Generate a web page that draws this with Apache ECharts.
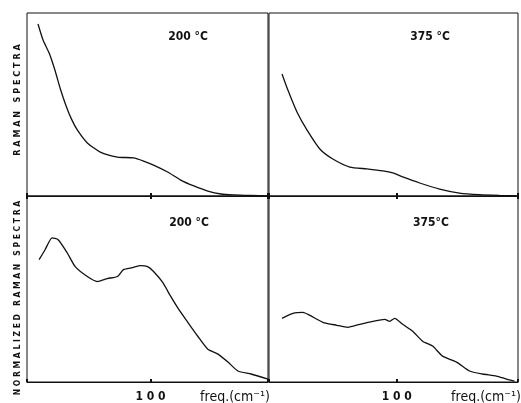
<!DOCTYPE html>
<html>
<head>
<meta charset="utf-8">
<script src="https://cdn.jsdelivr.net/npm/echarts@6/dist/echarts.min.js"></script>
<style>
  html, body { margin: 0; padding: 0; background: #fff; }
  #chart { width: 521px; height: 403px; }
</style>
</head>
<body>
<div id="chart"></div>
<script>
// frequency (cm-1) and intensity (arb. units)
const topLeftFreq = [8.9, 13.0, 18.0, 22.5, 27.0, 31.5, 36.0, 40.7, 48.8, 59.3, 73.2, 86.2, 94.3, 102.4, 113.8, 124.4, 135.0, 146.3, 156.9, 167.5, 181.3, 195];
const topLeftVal  = [94.0, 85.2, 78.0, 69.0, 58.5, 49.5, 42.0, 36.1, 29.0, 24.0, 21.3, 20.8, 19.1, 16.9, 13.1, 8.7, 5.5, 2.7, 1.1, 0.6, 0.3, 0.1];

const topRightFreq = [10.2, 14.8, 21.9, 29.7, 39.8, 50.0, 63.3, 76.6, 89.1, 96.9, 104.7, 118.0, 133.6, 149.2, 164.8, 180.5, 193.8];
const topRightVal  = [66.7, 57.9, 45.9, 36.1, 25.7, 20.2, 15.8, 14.8, 13.7, 12.6, 10.4, 7.1, 3.8, 1.6, 0.7, 0.3, 0.1];

const botLeftFreq = [9.8, 14.6, 20.3, 25.2, 32.5, 39.0, 48.8, 56.9, 65.0, 73.2, 78.0, 85.4, 91.9, 97.6, 102.4, 109.8, 116.3, 122.8, 130.1, 138.2, 146.3, 154.5, 162.6, 170.7, 181.3, 195.1];
const botLeftVal  = [65.8, 71.1, 77.5, 76.5, 69.5, 62.0, 56.7, 54.0, 55.6, 56.7, 60.4, 61.5, 62.6, 62.0, 59.4, 53.5, 46.0, 39.0, 32.1, 24.6, 17.6, 15.0, 10.7, 5.9, 4.3, 1.6];

const botRightFreq = [10.2, 18.8, 26.6, 32.0, 42.2, 53.1, 61.7, 71.1, 81.3, 90.6, 94.5, 98.4, 104.7, 112.5, 120.3, 128.1, 135.9, 146.9, 157.0, 167.2, 178.1, 185.9, 192.2];
const botRightVal  = [34.2, 36.9, 37.4, 35.8, 32.1, 30.5, 29.4, 31.0, 32.6, 33.7, 32.6, 34.2, 31.0, 27.3, 21.9, 19.3, 13.9, 10.7, 5.9, 4.3, 3.2, 1.6, 0.5];

const panelTitles = ['200 °C', '375 °C', '200 °C', '375°C'];
const tickLabel = '1 0 0';
const freqName = 'freq.(cm\u207B\u00B9)';

const pair = (xs, ys) => xs.map((x, i) => [x, ys[i]]);
const panels = [
  pair(topLeftFreq, topLeftVal),
  pair(topRightFreq, topRightVal),
  pair(botLeftFreq, botLeftVal),
  pair(botRightFreq, botRightVal),
];

const ink = '#111';
const font = '"Liberation Sans Narrow", "DejaVu Sans Condensed", sans-serif';

const grids = [
  { left: 27, top: 13, width: 241, height: 183 },
  { left: 269, top: 13, width: 249, height: 183 },
  { left: 27, top: 196, width: 241, height: 187 },
  { left: 269, top: 196, width: 249, height: 187 },
].map(g => Object.assign(g, { show: true, borderColor: ink, borderWidth: 1, backgroundColor: 'transparent' }));

const xAxes = grids.map((g, i) => ({
  type: 'value', gridIndex: i, min: 0, max: 195, interval: 100,
  axisLine: { show: true, lineStyle: { color: ink, width: 1 } },
  axisTick: { show: true, inside: true, length: 3, lineStyle: { color: ink, width: 2 } },
  splitLine: { show: false },
  axisLabel: {
    show: i >= 2, margin: 9, color: ink, fontSize: 12, fontWeight: 'bold', fontFamily: font,
    formatter: v => (v === 100 ? tickLabel : ''),
  },
}));
// short ticks just below the middle line so the mark at 100 crosses it
[2, 3].forEach(i => xAxes.push({
  type: 'value', gridIndex: i, position: 'top', min: 0, max: 195, interval: 100,
  axisLine: { show: false },
  axisTick: { show: true, inside: true, length: 3, lineStyle: { color: ink, width: 2 } },
  axisLabel: { show: false }, splitLine: { show: false },
}));

const yAxes = grids.map((g, i) => ({
  type: 'value', gridIndex: i, min: 0, max: 100,
  axisLine: { show: false }, axisTick: { show: false },
  axisLabel: { show: false }, splitLine: { show: false },
}));

const series = panels.map((d, i) => ({
  type: 'line', xAxisIndex: i, yAxisIndex: i, data: d,
  showSymbol: false, smooth: 0.2,
  lineStyle: { color: ink, width: 1.3 },
}));

const titlePos = [[188, 37], [430, 37], [189, 223], [431, 223]];
const graphic = titlePos.map((p, i) => ({
  type: 'text', x: p[0], y: p[1],
  style: { text: panelTitles[i], fill: ink, font: 'bold 12px ' + font, textAlign: 'center', textVerticalAlign: 'middle' },
}));
graphic.push(
  { type: 'text', x: 235, y: 397, style: { text: freqName, fill: ink, font: '14px ' + font, textAlign: 'center', textVerticalAlign: 'middle' } },
  { type: 'text', x: 486, y: 397, style: { text: freqName, fill: ink, font: '14px ' + font, textAlign: 'center', textVerticalAlign: 'middle' } },
  { type: 'text', x: 18, y: 100, rotation: Math.PI / 2,
    style: { text: 'R A M A N   S P E C T R A', fill: ink, font: 'bold 9px ' + font, textAlign: 'center', textVerticalAlign: 'middle' } },
  { type: 'text', x: 18, y: 298, rotation: Math.PI / 2,
    style: { text: 'N O R M A L I Z E D   R A M A N   S P E C T R A', fill: ink, font: 'bold 8.5px ' + font, textAlign: 'center', textVerticalAlign: 'middle' } }
);

const chart = echarts.init(document.getElementById('chart'));
chart.setOption({
  animation: false,
  backgroundColor: '#fff',
  grid: grids,
  xAxis: xAxes,
  yAxis: yAxes,
  series: series,
  graphic: graphic,
});
</script>
</body>
</html>
